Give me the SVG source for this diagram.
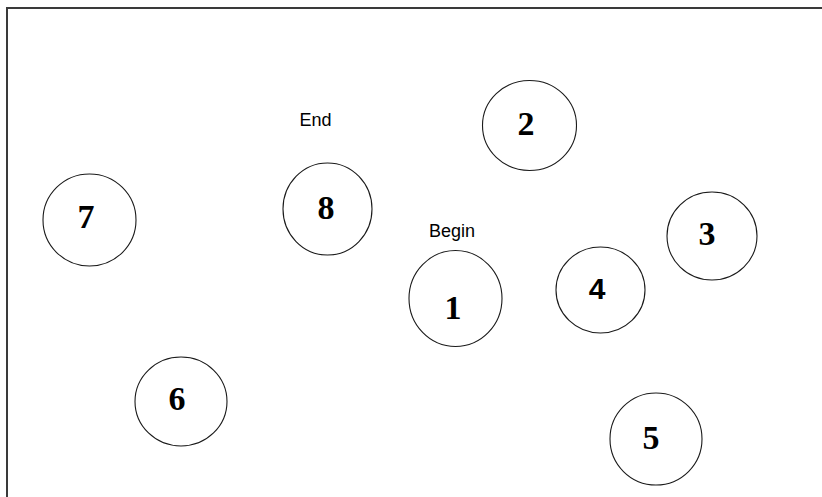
<svg xmlns="http://www.w3.org/2000/svg" width="822" height="497" viewBox="0 0 822 497">
<style>
.node ellipse{fill:none;stroke:#1a1a1a;stroke-width:1.1}
.num{font-family:"Liberation Serif",serif;font-weight:bold;font-size:34px;fill:#000;text-anchor:middle}
.numsans{font-family:"Liberation Sans",sans-serif;font-weight:bold;font-size:30px;fill:#000;text-anchor:middle}
.lbl{font-family:"Liberation Sans",Arial,sans-serif;font-size:18px;fill:#000;text-anchor:middle}
.frame{stroke:#3a3a3a;stroke-width:2;fill:none}
</style>
<rect width="822" height="497" fill="#fff"/>
<path class="frame" d="M7,497 V8 H822"/>
<g id="connectors"></g>
<g id="node1" class="node"><ellipse cx="455.5" cy="298.5" rx="46.5" ry="48"/><text class="num" x="453" y="319">1</text></g>
<g id="node2" class="node"><ellipse cx="529.5" cy="125.5" rx="47" ry="45"/><text class="num" x="526" y="135">2</text></g>
<g id="node3" class="node"><ellipse cx="712" cy="236" rx="45" ry="44"/><text class="num" x="707" y="245">3</text></g>
<g id="node4" class="node"><ellipse cx="600.5" cy="290" rx="44.5" ry="43"/><text class="numsans" x="597" y="299">4</text></g>
<g id="node5" class="node"><ellipse cx="656" cy="439" rx="46" ry="46"/><text class="num" x="651" y="449">5</text></g>
<g id="node6" class="node"><ellipse cx="181" cy="401.5" rx="46" ry="44.5"/><text class="num" x="177" y="410">6</text></g>
<g id="node7" class="node"><ellipse cx="89.5" cy="220" rx="46.5" ry="46"/><text class="num" x="86" y="228">7</text></g>
<g id="node8" class="node"><ellipse cx="327.5" cy="209" rx="44.5" ry="46"/><text class="num" x="326" y="219">8</text></g>
<g id="labels">
<text class="lbl" x="315.5" y="126">End</text>
<text class="lbl" x="452" y="237">Begin</text>
</g>
</svg>
